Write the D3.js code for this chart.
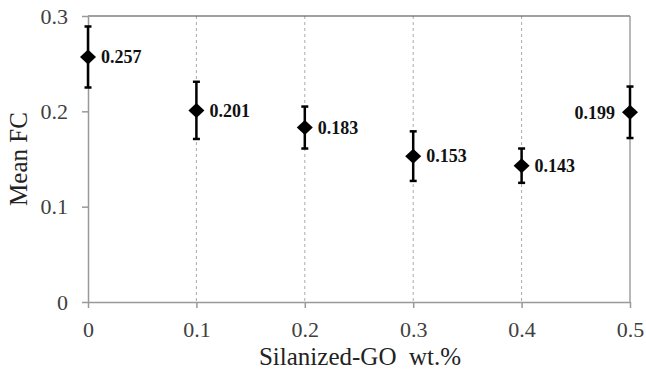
<!DOCTYPE html>
<html>
<head>
<meta charset="utf-8">
<script src="https://cdn.jsdelivr.net/npm/d3@7"></script>
<style>
  body { margin: 0; background: #fff; }
  svg { display: block; }
</style>
</head>
<body>
<svg id="chart"></svg>
<script>
const loadings = [0, 0.1, 0.2, 0.3, 0.4, 0.5];
const meanFC = [0.257, 0.201, 0.183, 0.153, 0.143, 0.199];
const errFC = [0.032, 0.030, 0.022, 0.026, 0.018, 0.027];
const labelSide = ['right', 'right', 'right', 'right', 'right', 'left'];
const xTicks = [0, 0.1, 0.2, 0.3, 0.4, 0.5];
const yTicks = [0, 0.1, 0.2, 0.3];

const width = 646;
const height = 377;
const margin = { top: 16, right: 16, bottom: 75, left: 88 };
const serif = 'Liberation Serif';

const svg = d3.select('#chart').attr('width', width).attr('height', height);

const x = d3.scaleLinear([0, 0.5], [margin.left, width - margin.right]);
const y = d3.scaleLinear([0, 0.3], [height - margin.bottom, margin.top]);

// vertical dashed gridlines
svg.append('g')
  .selectAll('line')
  .data(xTicks.slice(1, -1))
  .join('line')
  .attr('x1', (d) => x(d))
  .attr('x2', (d) => x(d))
  .attr('y1', y(0.3))
  .attr('y2', y(0))
  .attr('stroke', '#aaa')
  .attr('stroke-width', 1)
  .attr('stroke-dasharray', '3,3');

// frame: top and right
svg.append('line')
  .attr('x1', x(0)).attr('x2', x(0.5))
  .attr('y1', y(0.3)).attr('y2', y(0.3))
  .attr('stroke', '#444').attr('stroke-width', 1.2);
svg.append('line')
  .attr('x1', x(0.5)).attr('x2', x(0.5))
  .attr('y1', y(0.3)).attr('y2', y(0))
  .attr('stroke', '#888').attr('stroke-width', 1.2);

const xAxis = d3.axisBottom(x).tickValues(xTicks).tickFormat(d3.format('')).tickSize(6).tickSizeOuter(0).tickPadding(13);
const yAxis = d3.axisLeft(y).tickValues(yTicks).tickFormat(d3.format('')).tickSize(6).tickSizeOuter(0).tickPadding(14);

const styleAxis = (g) => {
  g.attr('font-family', serif).attr('font-size', 22);
  g.select('.domain').attr('stroke', '#999').attr('stroke-width', 1.5);
  g.selectAll('.tick line').attr('stroke', '#999').attr('stroke-width', 1.5);
  g.selectAll('.tick text').attr('fill', '#404040');
};

svg.append('g')
  .attr('transform', `translate(0,${y(0)})`)
  .call(xAxis)
  .call(styleAxis)
  .call((g) => g.selectAll('.tick text').attr('dy', '0.71em'));

svg.append('g')
  .attr('transform', `translate(${x(0)},0)`)
  .call(yAxis)
  .call(styleAxis);

// error bars
const eb = svg.append('g')
  .selectAll('g')
  .data(loadings)
  .join('g')
  .attr('stroke', '#000')
  .attr('stroke-width', 2.5);

eb.append('line')
  .attr('x1', (d) => x(d)).attr('x2', (d) => x(d))
  .attr('y1', (d, i) => y(meanFC[i] + errFC[i]))
  .attr('y2', (d, i) => y(meanFC[i] - errFC[i]));
eb.append('line')
  .attr('x1', (d) => x(d) - 3.5).attr('x2', (d) => x(d) + 3.5)
  .attr('y1', (d, i) => y(meanFC[i] + errFC[i]))
  .attr('y2', (d, i) => y(meanFC[i] + errFC[i]));
eb.append('line')
  .attr('x1', (d) => x(d) - 3.5).attr('x2', (d) => x(d) + 3.5)
  .attr('y1', (d, i) => y(meanFC[i] - errFC[i]))
  .attr('y2', (d, i) => y(meanFC[i] - errFC[i]));

// diamond markers
svg.append('g')
  .selectAll('path')
  .data(loadings)
  .join('path')
  .attr('transform', (d, i) => `translate(${x(d)},${y(meanFC[i])})`)
  .attr('d', 'M0,-7.5L8,0L0,7.5L-8,0Z')
  .attr('fill', '#000');

// value labels
svg.append('g')
  .attr('font-family', serif)
  .attr('font-weight', 'bold')
  .attr('font-size', 18)
  .attr('fill', '#111')
  .selectAll('text')
  .data(loadings)
  .join('text')
  .attr('x', (d, i) => x(d) + (labelSide[i] === 'right' ? 13 : -15))
  .attr('y', (d, i) => y(meanFC[i]))
  .attr('dy', '0.35em')
  .attr('text-anchor', (d, i) => (labelSide[i] === 'right' ? 'start' : 'end'))
  .text((d, i) => meanFC[i].toFixed(3));

// axis titles
svg.append('text')
  .attr('x', 360)
  .attr('y', 365)
  .attr('text-anchor', 'middle')
  .attr('font-family', serif)
  .attr('font-size', 25)
  .attr('fill', '#222')
  .text('Silanized-GO\u00a0\u00a0wt.%');

svg.append('text')
  .attr('transform', `translate(27,${(y(0) + y(0.3)) / 2}) rotate(-90)`)
  .attr('text-anchor', 'middle')
  .attr('font-family', serif)
  .attr('font-size', 25)
  .attr('fill', '#222')
  .text('Mean FC');
</script>
</body>
</html>
